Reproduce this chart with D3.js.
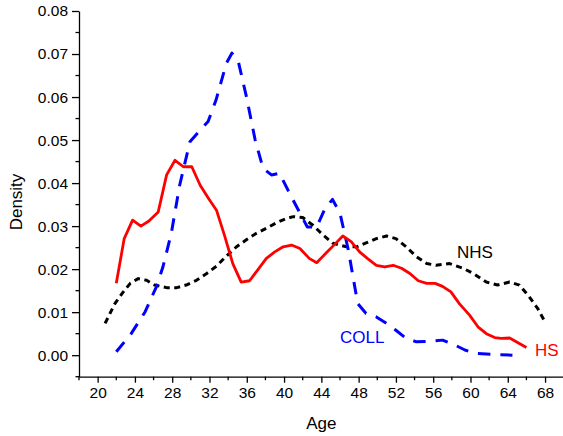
<!DOCTYPE html>
<html>
<head>
<meta charset="utf-8">
<script src="https://cdn.jsdelivr.net/npm/d3@7"></script>
<style>
  body { margin: 0; background: #fff; }
  svg { font-family: "Liberation Sans", Arial, sans-serif; }
</style>
</head>
<body>
<div class="chart"></div>
<script>
// values
const hsAge = [22.0, 22.85, 23.75, 24.64, 25.5, 26.5, 27.4, 28.3, 29.2, 30.1, 31.0, 31.9, 32.75, 33.6, 34.5, 35.4, 36.3, 37.2, 38.1, 39.0, 39.9, 40.8, 41.7, 42.7, 43.5, 44.4, 45.4, 46.3, 47.2, 48.1, 49.0, 49.9, 50.8, 51.7, 52.6, 53.5, 54.4, 55.3, 56.2, 57.0, 57.9, 58.8, 59.9, 60.8, 61.7, 62.6, 63.3, 64.2, 66.0];
const hsDensity = [0.0167, 0.0271, 0.0314, 0.0300, 0.0312, 0.0333, 0.0419, 0.0453, 0.0438, 0.0438, 0.0395, 0.0364, 0.0337, 0.0279, 0.0213, 0.0170, 0.0173, 0.0199, 0.0225, 0.0240, 0.0252, 0.0256, 0.0248, 0.0225, 0.0215, 0.0235, 0.0257, 0.0277, 0.0264, 0.0240, 0.0224, 0.0209, 0.0205, 0.0209, 0.0202, 0.0190, 0.0173, 0.0167, 0.0167, 0.0160, 0.0147, 0.0120, 0.0093, 0.0066, 0.0050, 0.0041, 0.0039, 0.0040, 0.0018];

const collAge = [22.0, 23.6, 25.1, 26.3, 27.0, 27.9, 28.8, 29.9, 31.0, 31.85, 32.7, 33.8, 34.4, 35.1, 36.0, 36.9, 37.75, 38.65, 39.5, 40.6, 41.9, 42.5, 43.5, 44.4, 45.2, 46.0, 46.9, 47.9, 48.8, 49.9, 51.0, 52.0, 53.1, 54.2, 56.0, 57.0, 58.2, 59.4, 60.6, 62.5, 64.5];
const collDensity = [0.0008, 0.0050, 0.0101, 0.0159, 0.0205, 0.0283, 0.0395, 0.0496, 0.0523, 0.0543, 0.0593, 0.0678, 0.0702, 0.0682, 0.0597, 0.0500, 0.0434, 0.0419, 0.0423, 0.0376, 0.0322, 0.0298, 0.0298, 0.0341, 0.0362, 0.0330, 0.0244, 0.0120, 0.0097, 0.0089, 0.0074, 0.0058, 0.0039, 0.0031, 0.0033, 0.0035, 0.0025, 0.0012, 0.0004, 0.0002, 0.0000];

const nhsAge = [20.8, 21.85, 22.75, 23.5, 24.35, 25.25, 26.1, 27.4, 28.5, 29.5, 30.6, 31.7, 32.75, 33.8, 34.9, 36.0, 37.0, 38.1, 39.2, 40.3, 41.0, 42.0, 43.1, 44.2, 45.25, 46.7, 47.8, 48.8, 49.9, 51.0, 52.0, 53.1, 54.2, 55.3, 56.3, 57.75, 59.2, 60.3, 61.7, 62.9, 64.2, 65.25, 66.3, 67.2, 67.9];
const nhsDensity = [0.0074, 0.0120, 0.0147, 0.0167, 0.0178, 0.0174, 0.0163, 0.0157, 0.0157, 0.0163, 0.0174, 0.0190, 0.0207, 0.0230, 0.0252, 0.0269, 0.0283, 0.0295, 0.0308, 0.0318, 0.0322, 0.0320, 0.0302, 0.0279, 0.0260, 0.0252, 0.0252, 0.0261, 0.0271, 0.0277, 0.0271, 0.0252, 0.0229, 0.0213, 0.0209, 0.0213, 0.0202, 0.0190, 0.0170, 0.0163, 0.0170, 0.0163, 0.0136, 0.0109, 0.0081];

const xTicks = [20, 24, 28, 32, 36, 40, 44, 48, 52, 56, 60, 64, 68];
const yTicks = [0.00, 0.01, 0.02, 0.03, 0.04, 0.05, 0.06, 0.07, 0.08];

const w = 563;
const h = 436;
const margin = { top: 11, bottom: 59, left: 79, right: 0 };

const xScale = d3.scaleLinear()
  .domain([18, 70])
  .range([margin.left, 563.7]);
const yScale = d3.scaleLinear()
  .domain([-0.005, 0.08])
  .range([h - margin.bottom - 0.3, margin.top]);

const svg = d3.select(".chart")
  .append("svg")
  .attr("width", w)
  .attr("height", h);

// minor ticks
const xMinor = d3.range(18, 71, 2).filter(v => !xTicks.includes(v));
const yMinor = d3.range(-0.005, 0.08, 0.01);

const xAxis = d3.axisBottom(xScale)
  .tickValues(xTicks)
  .tickFormat(d3.format("d"))
  .tickSize(6)
  .tickSizeOuter(0)
  .tickPadding(4);
const yAxis = d3.axisLeft(yScale)
  .tickValues(yTicks)
  .tickFormat(d3.format(".2f"))
  .tickSize(7)
  .tickSizeOuter(0)
  .tickPadding(4);

const gx = svg.append("g")
  .attr("transform", `translate(0, ${yScale(-0.005)})`)
  .call(xAxis);
gx.selectAll(".tick")
  .data(xMinor, function(d) { return d; })
  .enter()
  .append("line")
  .attr("x1", d => xScale(d)).attr("x2", d => xScale(d))
  .attr("y1", 0).attr("y2", 3.5)
  .attr("stroke", "#000").attr("stroke-width", 1.3);

const gy = svg.append("g")
  .attr("transform", `translate(${margin.left}, 0)`)
  .call(yAxis);
gy.selectAll(".minor")
  .data(yMinor)
  .enter()
  .append("line")
  .attr("class", "minor")
  .attr("x1", 0).attr("x2", -3.5)
  .attr("y1", d => yScale(d)).attr("y2", d => yScale(d))
  .attr("stroke", "#000").attr("stroke-width", 1.3);

svg.selectAll(".domain, .tick line")
  .attr("stroke", "#000")
  .attr("stroke-width", 1.3);
svg.selectAll(".tick text")
  .attr("font-size", 15.5)
  .attr("font-family", "Liberation Sans, Arial, sans-serif")
  .attr("fill", "#000");

// axis titles
svg.append("text")
  .attr("x", (xScale(18) + xScale(70)) / 2)
  .attr("y", 429)
  .attr("text-anchor", "middle")
  .attr("font-size", 17)
  .text("Age");
svg.append("text")
  .attr("transform", "translate(22, 202) rotate(-90)")
  .attr("text-anchor", "middle")
  .attr("font-size", 17)
  .text("Density");

const line = d3.line()
  .x(d => xScale(d[0]))
  .y(d => yScale(d[1]));

const series = [
  { name: "NHS", age: nhsAge, dens: nhsDensity, color: "#000", dash: "6,4.5", width: 3 },
  { name: "COLL", age: collAge, dens: collDensity, color: "#0000ff", dash: "12.5,10", width: 3 },
  { name: "HS", age: hsAge, dens: hsDensity, color: "#ff0000", dash: null, width: 2.8 }
];

series.forEach(s => {
  svg.append("path")
    .datum(s.age.map((a, i) => [a, s.dens[i]]))
    .attr("fill", "none")
    .attr("stroke", s.color)
    .attr("stroke-width", s.width)
    .attr("stroke-dasharray", s.dash)
    .attr("stroke-linejoin", "round")
    .attr("d", line);
});

// curve labels
svg.append("text").attr("x", 457).attr("y", 258).attr("font-size", 17).attr("fill", "#000").text("NHS");
svg.append("text").attr("x", 340).attr("y", 343).attr("font-size", 17).attr("fill", "#0000ff").text("COLL");
svg.append("text").attr("x", 535).attr("y", 356).attr("font-size", 17).attr("fill", "#ff0000").text("HS");
</script>
</body>
</html>
